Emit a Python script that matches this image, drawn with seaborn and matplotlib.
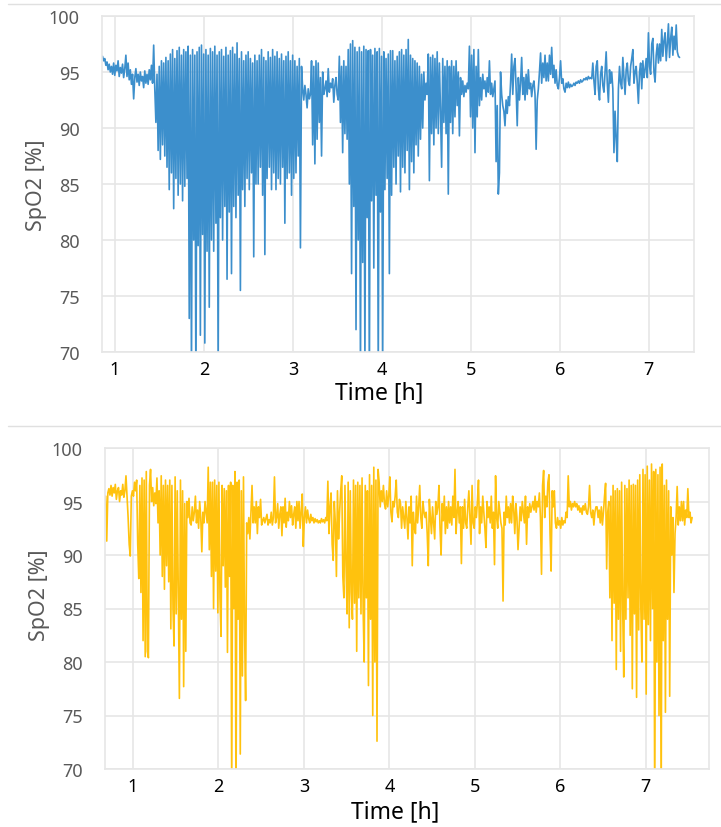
import numpy as np
import pandas as pd
import seaborn as sns
import matplotlib.pyplot as plt
from matplotlib.lines import Line2D

# SpO2 traces, one value every 0.0125 h (20 values = 15 min per row)
step = 0.0125

# upper recording (blue), starts at 0.86 h
t0_a = 0.86
spo2_a = [
    96.4, 96.0, 96.2, 95.6, 95.9, 95.2, 95.7, 95.0, 95.5, 94.8, 95.8, 94.7, 95.6, 95.1, 96.0, 94.6, 95.4, 94.9, 95.7, 94.5,
    95.3, 96.5, 94.6, 95.8, 94.3, 95.2, 93.9, 94.8, 92.6, 94.5, 95.3, 94.1, 94.8, 93.8, 95.0, 94.2, 94.6, 93.6, 95.1, 94.0,
    94.8, 93.9, 95.2, 94.3, 95.6, 94.0, 97.4, 93.5, 90.5, 94.8, 88.0, 95.5, 87.2, 96.0, 88.5, 95.8, 87.5, 96.3, 86.5, 96.0,
    84.5, 96.6, 86.0, 97.0, 82.8, 96.2, 85.5, 96.9, 84.0, 97.2, 85.0, 96.5, 83.5, 97.0, 84.8, 96.8, 85.5, 97.3, 73.0, 96.5,
    68.0, 97.0, 80.0, 96.5, 66.0, 96.8, 79.5, 97.2, 71.5, 97.4, 80.5, 96.6, 70.8, 97.0, 79.0, 96.5, 74.0, 97.1, 80.0, 96.8,
    79.0, 97.3, 81.5, 96.5, 68.0, 96.8, 82.0, 97.0, 80.0, 96.4, 83.0, 97.2, 76.5, 96.5, 82.5, 96.9, 77.0, 97.2, 83.0, 96.6,
    82.0, 97.6, 84.0, 96.2, 75.5, 96.8, 84.5, 96.0, 83.0, 96.5, 85.5, 96.8, 84.5, 96.2, 86.0, 95.8, 78.5, 96.5, 85.0, 96.0,
    85.0, 96.5, 86.5, 97.0, 84.0, 96.3, 78.7, 96.0, 85.5, 96.8, 86.5, 96.3, 84.5, 97.0, 86.0, 96.4, 84.5, 96.8, 85.5, 96.2,
    85.0, 96.6, 86.5, 96.0, 81.5, 96.4, 85.5, 96.8, 86.0, 96.0, 84.0, 96.5, 85.5, 96.0, 86.0, 95.5, 87.5, 96.2, 79.3, 95.5,
    93.5, 92.5, 93.8, 93.0, 91.8, 93.5, 92.6, 93.0, 96.0, 88.5, 95.5, 86.8, 96.0, 89.0, 95.8, 90.5, 94.5, 87.5, 95.0, 93.0,
    93.5, 94.2, 92.8, 95.3, 93.2, 94.0, 93.6, 94.4, 92.3, 93.8, 94.5, 93.0, 92.5, 96.4, 90.5, 95.5, 87.8, 96.0, 89.5, 95.5,
    89.0, 97.0, 85.0, 97.5, 77.0, 97.8, 83.0, 97.2, 72.0, 96.8, 80.0, 97.2, 68.0, 96.8, 78.0, 97.3, 69.0, 97.0, 82.0, 96.9,
    67.0, 97.0, 83.5, 96.5, 77.5, 97.1, 84.0, 96.8, 68.0, 97.1, 82.5, 96.4, 69.5, 96.8, 84.5, 96.2, 85.5, 96.6, 77.0, 96.9,
    84.0, 96.9, 86.5, 96.0, 85.0, 96.4, 87.5, 96.8, 84.3, 97.0, 86.5, 96.5, 86.0, 97.0, 88.0, 97.9, 84.5, 96.5, 87.0, 96.2,
    86.0, 96.0, 88.5, 95.8, 87.5, 95.5, 89.0, 94.8, 90.0, 95.0, 92.5, 94.0, 93.0, 96.6, 85.3, 96.3, 89.5, 96.5, 88.5, 96.2,
    90.0, 96.8, 89.5, 95.8, 91.5, 86.5, 96.2, 90.5, 95.5, 89.5, 96.0, 84.1, 95.5, 90.5, 96.0, 89.5, 95.5, 91.0, 96.0, 92.0,
    95.0, 89.3, 94.5, 93.0, 94.2, 92.8, 93.8, 93.2, 94.0, 93.5, 97.3, 91.0, 96.5, 90.0, 97.0, 87.8, 95.5, 91.0, 97.0, 92.0,
    94.5, 92.5, 94.8, 93.5, 94.2, 92.8, 94.5, 93.2, 96.0, 93.0, 94.0, 92.8, 93.5, 94.2, 87.0, 92.0, 84.1, 86.0, 95.0, 93.0,
    92.0, 91.5, 90.2, 92.5, 91.3, 92.8, 92.0, 94.0, 96.6, 93.0, 95.5, 96.2, 93.5, 90.2, 94.5, 92.5, 94.0, 96.3, 93.0, 94.5,
    92.5, 94.8, 93.0, 95.2, 93.5, 94.0, 92.8, 93.8, 94.2, 93.0, 88.1, 92.5, 93.5, 95.0, 96.7, 94.0, 95.8, 94.5, 96.5, 94.2,
    95.8, 94.2, 96.5, 94.8, 97.2, 94.5, 95.6, 94.0, 95.2, 93.8, 93.5, 94.5, 96.0, 94.0, 94.4, 93.5, 93.2, 94.0, 93.6, 94.1,
    93.6, 93.9, 93.7, 93.8, 94.0, 93.8, 94.1, 94.0, 94.2, 94.0, 94.3, 94.1, 94.2, 94.4, 94.3, 94.5, 94.3, 94.6, 94.4, 94.5,
    94.4, 95.8, 94.2, 93.0, 95.5, 96.0, 93.5, 92.5, 94.8, 95.5, 93.8, 93.2, 95.0, 96.8, 94.0, 92.3, 95.2, 94.0, 95.0, 93.5,
    87.8, 91.5, 89.0, 87.0, 93.5, 95.5, 94.0, 93.5, 96.3, 94.5, 93.0, 95.2, 95.8, 94.2, 93.8, 95.5, 96.2, 97.0, 94.0, 95.0,
    95.5, 94.0, 92.2, 95.0, 95.8, 93.5, 96.0, 94.5, 95.2, 96.2, 94.5, 98.5, 95.5, 94.8, 97.5, 98.0, 95.0, 94.1, 96.5, 97.5,
    95.8, 97.5, 96.0, 98.8, 96.4, 97.8, 98.5, 96.0, 97.5, 99.3, 96.3, 98.0, 99.0, 96.5, 98.2, 97.0, 99.2, 96.8, 96.4, 96.3,
]

# lower recording (yellow), starts at 0.68 h
t0_b = 0.68
spo2_b = [
    95.5, 91.3, 95.8, 96.2, 95.6, 96.5, 95.5, 96.3, 95.8, 96.6, 95.2, 96.0, 96.3, 95.0, 96.0, 95.6, 96.6, 95.4, 96.0, 97.4,
    95.5, 93.5, 91.0, 89.9, 95.5, 96.0, 95.5, 96.8, 96.0, 97.0, 91.0, 87.8, 96.5, 86.5, 97.2, 82.0, 97.0, 80.5, 97.8, 81.0,
    80.4, 96.5, 98.0, 95.0, 96.3, 94.6, 95.8, 94.8, 97.2, 93.0, 96.0, 90.0, 97.4, 88.0, 96.5, 86.8, 97.0, 89.0, 96.5, 87.5,
    97.0, 83.1, 96.5, 85.0, 81.5, 97.3, 84.5, 96.0, 86.0, 76.6, 97.0, 84.0, 96.0, 77.7, 94.8, 81.0, 95.0, 93.5, 95.3, 93.0,
    92.8, 94.5, 93.2, 94.0, 95.5, 93.0, 94.2, 92.5, 95.0, 93.5, 90.3, 94.0, 93.0, 95.0, 94.0, 93.0, 98.2, 90.5, 96.8, 88.0,
    96.8, 85.0, 97.0, 88.5, 96.5, 84.6, 96.8, 86.0, 82.4, 96.5, 89.0, 96.2, 87.0, 96.0, 80.9, 96.5, 88.0, 96.8, 68.0, 96.5,
    85.0, 97.8, 66.0, 96.8, 84.0, 97.0, 71.4, 96.0, 78.7, 97.3, 83.0, 76.4, 93.0, 92.0, 93.5, 91.5, 94.0, 96.5, 93.0, 94.5,
    93.0, 95.0, 92.0, 94.5, 93.5, 95.2, 92.8, 93.2, 93.5, 93.0, 93.4, 93.8, 92.8, 93.3, 93.0, 94.0, 92.8, 93.5, 97.3, 93.0,
    93.5, 94.8, 92.5, 93.8, 94.5, 91.8, 94.5, 93.0, 95.3, 92.6, 94.0, 93.2, 95.0, 93.5, 94.6, 92.8, 93.8, 94.5, 92.5, 95.0,
    93.2, 95.0, 92.5, 94.0, 95.7, 90.8, 93.5, 94.5, 93.0, 94.2, 93.4, 93.0, 93.8, 93.2, 93.5, 93.0, 93.4, 93.1, 93.3, 93.0,
    93.2, 93.0, 93.4, 93.1, 93.3, 93.0, 93.5, 93.2, 96.9, 92.0, 94.5, 95.8, 91.0, 89.5, 95.0, 93.0, 88.0, 96.0, 91.5, 94.0,
    96.0, 97.4, 88.0, 86.0, 96.5, 89.0, 84.5, 96.8, 83.2, 96.0, 86.5, 84.0, 97.0, 85.5, 96.5, 81.0, 96.8, 86.0, 96.5, 84.5,
    97.2, 85.0, 80.0, 96.5, 86.0, 96.0, 77.8, 97.5, 84.0, 96.5, 75.0, 98.2, 80.0, 97.0, 72.6, 98.0, 96.8, 94.5, 96.0, 95.0,
    96.5, 94.8, 94.3, 96.0, 94.5, 95.5, 97.3, 94.0, 93.1, 95.0, 94.5, 95.5, 97.0, 94.0, 93.5, 95.2, 94.8, 92.5, 94.5, 93.5,
    92.5, 95.0, 93.5, 91.5, 94.5, 93.0, 95.5, 89.0, 94.0, 92.5, 92.0, 95.5, 93.0, 94.5, 96.5, 93.5, 92.5, 95.0, 94.0, 93.5,
    94.0, 92.0, 89.0, 95.2, 93.5, 92.0, 94.5, 93.0, 91.5, 95.0, 93.8, 94.5, 96.5, 92.5, 90.0, 94.8, 93.2, 95.5, 92.0, 94.5,
    92.5, 95.0, 93.0, 94.5, 92.8, 95.5, 93.5, 98.0, 92.0, 94.0, 95.0, 93.0, 94.5, 89.2, 94.5, 92.5, 95.2, 93.0, 92.5, 94.5,
    96.0, 93.5, 91.0, 96.5, 93.0, 92.5, 94.5, 93.5, 95.0, 97.0, 92.0, 94.5, 93.0, 95.5, 94.0, 92.5, 90.7, 95.0, 93.5, 94.5,
    93.0, 95.5, 92.5, 94.0, 89.1, 97.4, 93.5, 92.5, 95.0, 94.0, 93.0, 92.5, 85.7, 94.0, 92.8, 95.5, 93.5, 94.5, 93.0, 94.8,
    93.0, 95.5, 94.2, 92.0, 94.8, 93.5, 90.5, 92.5, 94.5, 93.2, 95.0, 94.0, 93.0, 95.5, 91.0, 94.5, 93.5, 94.8, 94.0, 94.5,
    95.0, 94.2, 95.5, 94.0, 95.0, 94.5, 95.8, 93.5, 88.2, 96.5, 97.9, 93.5, 95.5, 94.5, 96.8, 97.5, 92.0, 88.5, 96.0, 94.5,
    96.0, 93.0, 92.5, 93.5, 92.8, 93.2, 92.5, 93.5, 92.8, 93.2, 93.0, 94.0, 93.5, 97.4, 94.5, 95.0, 94.2, 94.8, 94.5, 95.0,
    94.5, 94.8, 94.2, 94.6, 94.0, 94.4, 93.8, 94.6, 94.2, 94.8, 94.0, 93.8, 94.5, 96.5, 94.0, 93.5, 94.2, 92.8, 94.0, 94.5,
    94.5, 93.5, 94.2, 93.0, 94.5, 92.8, 94.0, 95.5, 96.7, 88.7, 94.0, 95.0, 86.0, 95.5, 82.0, 96.5, 85.5, 96.0, 79.3, 96.2,
    84.0, 96.0, 81.0, 96.8, 85.0, 78.6, 96.5, 84.0, 96.2, 86.0, 97.0, 82.5, 96.5, 77.5, 96.6, 84.5, 96.5, 76.7, 97.0, 83.0,
    97.5, 85.0, 80.0, 98.0, 84.0, 97.5, 77.0, 98.3, 83.5, 97.0, 82.0, 98.5, 85.0, 97.8, 66.0, 98.0, 80.0, 97.5, 75.0, 98.2,
    66.0, 98.5, 82.0, 96.5, 75.3, 97.0, 84.0, 96.0, 76.8, 94.5, 90.0, 93.5, 86.5, 92.0, 93.5, 96.4, 92.8, 94.5, 93.2, 95.0,
    93.2, 95.0, 92.8, 94.2, 93.5, 96.2, 93.5, 94.0, 93.0, 93.5,
]

df_a = pd.DataFrame({"time": t0_a + step * np.arange(len(spo2_a)), "spo2": spo2_a})
df_b = pd.DataFrame({"time": t0_b + step * np.arange(len(spo2_b)), "spo2": spo2_b})

sns.set_theme(style="whitegrid")
plt.rcParams['font.family'] = ['Noto Sans', 'DejaVu Sans']

fig = plt.figure(figsize=(7.21, 8.28), dpi=100)

W, H = 721, 828
# (left, top, right, bottom) in pixels, xlim, colour, label positions
panels = [
    (df_a, (102, 17, 694, 353), (0.854, 7.51), '#3c8fcc', (0.468, -0.085), (-0.093, 0.5)),
    (df_b, (105, 449, 709, 770), (0.672, 7.74), '#ffc20e', (0.48, -0.095), (-0.091, 0.545)),
]

for data, (l, t, r, b), xlim, col, xl_pos, yl_pos in panels:
    ax = fig.add_axes([l / W, 1 - b / H, (r - l) / W, (b - t) / H])
    sns.lineplot(x="time", y="spo2", data=data, ax=ax, color=col, lw=1.2,
                 estimator=None, sort=False)
    ax.set_xlim(*xlim)
    ax.set_ylim(70, 100)
    ax.set_xticks([1, 2, 3, 4, 5, 6, 7])
    ax.set_yticks([70, 75, 80, 85, 90, 95, 100])
    ax.grid(True, color='#e6e6e6', lw=1.2)
    for pos in ['left', 'right', 'top', 'bottom']:
        ax.spines[pos].set_color('#e6e6e6')
        ax.spines[pos].set_linewidth(1.2)
    ax.tick_params(axis='y', labelsize=13, labelcolor='#595959', pad=16, length=0)
    ax.tick_params(axis='x', labelsize=13, labelcolor='black', pad=6, length=0)
    ax.set_xlabel('Time [h]', fontsize=16.5, color='black')
    ax.set_ylabel('SpO2 [%]', fontsize=15.5, color='#595959')
    ax.xaxis.set_label_coords(*xl_pos)
    ax.yaxis.set_label_coords(*yl_pos)

# thin separators above each chart
for y in (5, 427):
    fig.add_artist(Line2D([8 / W, 1], [1 - y / H] * 2, color='#e0e0e0', lw=1,
                          transform=fig.transFigure))

plt.savefig('out.png', dpi=100)
